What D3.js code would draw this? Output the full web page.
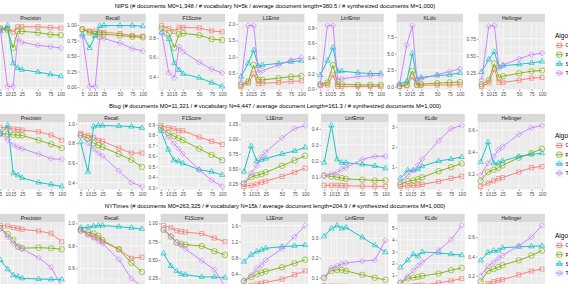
<!DOCTYPE html>
<html>
<head>
<meta charset="utf-8">
<script src="https://cdn.jsdelivr.net/npm/d3@7"></script>
<style>
  body { margin: 0; background: #fff; overflow: hidden; }
  svg { display: block; }
  text { font-family: "Liberation Sans", Arial, Helvetica, sans-serif; }
</style>
</head>
<body>
<div id="chart"></div>
<script>
// x values (sqrt scale) and the labelled breaks
const XS = [5, 10, 15, 20, 25, 50, 75, 100];
const X_BREAKS = [5, 10, 15, 25, 50, 75, 100];
const METRICS = ['Precision', 'Recall', 'F1Score', 'L1Error', 'LinfError', 'KLdiv', 'Hellinger'];
const ALGOS = ['CGS', 'PLDA', 'SVI', 'TVAE'];
const COLORS = ['#F8766D', '#7CAE00', '#00BFC4', '#C77CFF'];
const LEGEND_TITLE = 'Algorithm';
const TITLES = [
    'NIPS (# documents M0=1,348  /  # vocabulary N=5k  /  average document length=380.5  /  # synthesized documents M=1,000)',
    'Blog (# documents M0=11,321  /  # vocabulary N=4,447  /  average document Length=161.3  /  # synthesized documents M=1,000)',
    'NYTimes (# documents M0=263,325  /  # vocabulary N=15k  /  average document length=204.9  /  # synthesized documents M=1,000)'
];

// ---- NIPS ---- (rows: C, P, S, T)
const nipsPrecision = [[0.93, 0.92, 0.87, 0.95, 0.95, 0.95, 0.94, 0.93], [0.92, 0.90, 0.62, 0.88, 0.88, 0.86, 0.83, 0.82], [0.88, 0.97, 0.38, 0.31, 0.28, 0.245, 0.21, 0.18], [0.90, 0.02, 0.02, 0.77, 0.71, 0.66, 0.64, 0.62]];
const nipsRecall = [[0.93, 0.90, 0.90, 0.88, 0.88, 0.86, 0.83, 0.82], [0.93, 0.88, 0.85, 0.85, 0.85, 0.83, 0.81, 0.80], [0.85, 0.63, 0.82, 0.98, 0.99, 0.99, 0.99, 0.98], [0.82, 0.01, 0.01, 0.79, 0.78, 0.71, 0.62, 0.58]];
const nipsF1 = [[0.93, 0.90, 0.87, 0.91, 0.91, 0.905, 0.875, 0.865], [0.90, 0.85, 0.70, 0.84, 0.85, 0.83, 0.79, 0.78], [0.86, 0.79, 0.54, 0.47, 0.43, 0.39, 0.34, 0.30], [0.85, 0.44, 0.39, 0.71, 0.66, 0.55, 0.48, 0.44]];
const nipsL1 = [[0.10, 0.20, 0.48, 0.18, 0.20, 0.22, 0.25, 0.27], [0.15, 0.25, 0.75, 0.30, 0.30, 0.35, 0.40, 0.42], [0.40, 0.80, 1.20, 0.72, 0.75, 0.80, 0.85, 0.88], [0.22, 1.95, 1.95, 0.52, 0.58, 0.75, 0.90, 0.97]];
const nipsLinf = [[0.04, 0.05, 0.18, 0.03, 0.03, 0.03, 0.03, 0.03], [0.06, 0.08, 0.31, 0.06, 0.06, 0.05, 0.05, 0.05], [0.18, 0.37, 0.54, 0.23, 0.23, 0.21, 0.20, 0.20], [0.05, 0.83, 0.83, 0.12, 0.13, 0.16, 0.17, 0.18]];
const nipsKL = [[0.05, 0.15, 1.5, 0.2, 0.22, 0.25, 0.28, 0.3], [0.15, 0.3, 2.4, 0.35, 0.4, 0.55, 0.65, 0.7], [0.4, 0.8, 5.0, 1.2, 1.4, 1.7, 1.8, 2.1], [0.4, 6.3, 9.2, 1.0, 1.2, 1.8, 2.3, 2.7]];
const nipsHellinger = [[0.06, 0.11, 0.31, 0.12, 0.12, 0.15, 0.18, 0.19], [0.09, 0.15, 0.39, 0.19, 0.21, 0.25, 0.28, 0.29], [0.27, 0.45, 0.56, 0.34, 0.36, 0.38, 0.40, 0.42], [0.15, 0.93, 0.94, 0.33, 0.37, 0.46, 0.52, 0.54]];
const nipsTicks = [
    ['0.00', '0.25', '0.50', '0.75', '1.00'], ['0.00', '0.25', '0.50', '0.75', '1.00'], ['0.4', '0.6', '0.8'],
    ['0.0', '0.5', '1.0', '1.5', '2.0'], ['0.0', '0.2', '0.4', '0.6', '0.8'], ['0.0', '2.5', '5.0', '7.5'], ['0.25', '0.50', '0.75']
];

// ---- Blog ----
const blogPrecision = [[0.963, 0.952, 0.937, 0.93, 0.922, 0.896, 0.847, 0.77], [0.87, 0.86, 0.85, 0.845, 0.84, 0.77, 0.71, 0.65], [0.86, 0.99, 0.27, 0.24, 0.20, 0.13, 0.10, 0.07], [0.87, 0.77, 0.70, 0.66, 0.64, 0.56, 0.49, 0.48]];
const blogRecall = [[0.90, 0.88, 0.86, 0.83, 0.82, 0.75, 0.70, 0.70], [0.88, 0.85, 0.80, 0.78, 0.76, 0.69, 0.63, 0.56], [0.81, 0.51, 0.97, 0.98, 0.98, 0.975, 0.97, 0.955], [0.88, 0.80, 0.74, 0.70, 0.67, 0.52, 0.40, 0.36]];
const blogF1 = [[0.89, 0.87, 0.86, 0.84, 0.84, 0.78, 0.74, 0.71], [0.87, 0.82, 0.79, 0.77, 0.75, 0.67, 0.61, 0.56], [0.84, 0.66, 0.56, 0.55, 0.53, 0.47, 0.45, 0.42], [0.86, 0.78, 0.72, 0.67, 0.62, 0.47, 0.37, 0.31]];
const blogL1 = [[0.20, 0.22, 0.24, 0.27, 0.29, 0.37, 0.44, 0.51], [0.25, 0.36, 0.39, 0.41, 0.44, 0.55, 0.64, 0.72], [0.45, 0.88, 0.63, 0.65, 0.67, 0.75, 0.80, 0.86], [0.25, 0.42, 0.55, 0.70, 0.78, 1.02, 1.18, 1.23]];
const blogLinf = [[0.05, 0.05, 0.05, 0.048, 0.047, 0.045, 0.044, 0.043], [0.11, 0.105, 0.10, 0.095, 0.09, 0.085, 0.08, 0.08], [0.19, 0.42, 0.21, 0.19, 0.19, 0.18, 0.17, 0.155], [0.11, 0.12, 0.13, 0.15, 0.16, 0.21, 0.23, 0.23]];
const blogKL = [[0.05, 0.08, 0.10, 0.12, 0.15, 0.30, 0.45, 0.55], [0.15, 0.30, 0.35, 0.40, 0.50, 0.80, 1.00, 1.18], [0.45, 0.85, 0.85, 0.90, 1.05, 1.30, 1.40, 1.50], [0.25, 0.60, 0.85, 1.10, 1.40, 2.30, 2.90, 3.05]];
const blogHellinger = [[0.09, 0.12, 0.14, 0.16, 0.17, 0.22, 0.26, 0.27], [0.14, 0.22, 0.24, 0.26, 0.28, 0.35, 0.39, 0.43], [0.31, 0.49, 0.30, 0.30, 0.32, 0.36, 0.38, 0.39], [0.19, 0.30, 0.36, 0.42, 0.45, 0.56, 0.62, 0.64]];
const blogTicks = [
    ['0.25', '0.50', '0.75', '1.00'], ['0.4', '0.6', '0.8', '1.0'], ['0.3', '0.4', '0.5', '0.6', '0.7', '0.8', '0.9'],
    ['0.25', '0.50', '0.75', '1.00', '1.25'], ['0.1', '0.2', '0.3', '0.4'], ['1', '2', '3'], ['0.2', '0.4', '0.6']
];

// ---- NYTimes ----
const nytPrecision = [[0.96, 0.953, 0.93, 0.92, 0.906, 0.882, 0.85, 0.73], [0.92, 0.84, 0.755, 0.66, 0.64, 0.647, 0.64, 0.625], [0.474, 0.342, 0.26, 0.238, 0.215, 0.205, 0.20, 0.20], [0.92, 0.80, 0.71, 0.66, 0.63, 0.506, 0.37, 0.10]];
const nytRecall = [[0.945, 0.90, 0.88, 0.87, 0.84, 0.77, 0.69, 0.70], [0.935, 0.92, 0.91, 0.89, 0.85, 0.77, 0.65, 0.57], [0.96, 0.965, 0.975, 0.98, 0.98, 0.97, 0.96, 0.95], [0.935, 0.90, 0.87, 0.84, 0.82, 0.68, 0.51, 0.44]];
const nytF1 = [[0.97, 0.94, 0.90, 0.89, 0.88, 0.86, 0.80, 0.75], [0.91, 0.82, 0.74, 0.72, 0.71, 0.69, 0.62, 0.57], [0.59, 0.42, 0.35, 0.31, 0.30, 0.27, 0.27, 0.26], [0.92, 0.83, 0.74, 0.70, 0.65, 0.49, 0.37, 0.14]];
const nytL1 = [[0.10, 0.13, 0.16, 0.18, 0.20, 0.28, 0.39, 0.48], [0.23, 0.33, 0.40, 0.44, 0.47, 0.57, 0.67, 0.76], [0.71, 0.88, 0.96, 1.00, 1.04, 1.08, 1.10, 1.12], [0.25, 0.38, 0.55, 0.63, 0.75, 1.03, 1.33, 1.60]];
const nytLinf = [[0.06, 0.058, 0.057, 0.057, 0.057, 0.056, 0.056, 0.056], [0.10, 0.135, 0.14, 0.14, 0.135, 0.115, 0.10, 0.09], [0.31, 0.35, 0.365, 0.35, 0.355, 0.305, 0.265, 0.23], [0.10, 0.15, 0.16, 0.17, 0.175, 0.185, 0.19, 0.29]];
const nytKL = [[0.05, 0.08, 0.11, 0.14, 0.17, 0.36, 0.52, 0.72], [0.35, 0.72, 0.80, 0.86, 0.94, 1.14, 1.42, 1.62], [1.65, 2.27, 2.78, 2.6, 2.97, 2.9, 2.78, 2.7], [0.4, 0.9, 1.4, 1.8, 2.1, 3.1, 4.0, 5.2]];
const nytHellinger = [[0.09, 0.12, 0.14, 0.15, 0.16, 0.21, 0.25, 0.27], [0.14, 0.25, 0.27, 0.29, 0.31, 0.36, 0.41, 0.46], [0.36, 0.44, 0.46, 0.46, 0.49, 0.50, 0.505, 0.51], [0.20, 0.30, 0.34, 0.38, 0.41, 0.51, 0.60, 0.72]];
const nytTicks = [
    ['0.25', '0.50', '0.75'], ['0.4', '0.6', '0.8', '1.0'], ['0.25', '0.50', '0.75', '1.00'],
    ['0.4', '0.8', '1.2', '1.6'], ['0.1', '0.2', '0.3'], ['0', '1', '2', '3', '4', '5'], ['0.2', '0.4', '0.6']
];

const ROWS = [
    { series: [nipsPrecision, nipsRecall, nipsF1, nipsL1, nipsLinf, nipsKL, nipsHellinger], ticks: nipsTicks },
    { series: [blogPrecision, blogRecall, blogF1, blogL1, blogLinf, blogKL, blogHellinger], ticks: blogTicks },
    { series: [nytPrecision, nytRecall, nytF1, nytL1, nytLinf, nytKL, nytHellinger], ticks: nytTicks }
];

// layout (the figure is cropped on the left and bottom)
const ROW_H = 100;
const PLOT_LEFT = -15;
const PANEL_RIGHT = 545;
const STRIP_TOP = 13.8;
const PANEL_TOP = 22.5;
const PANEL_H = 67;
const SPACING = 3.2;
const TICK_LEN = 1.6;
const TICK_PAD = 1.1;
const TICK_FONT = 4.8;
const TITLE_FONT = 5.9;
const SHAPES = [d3.symbolSquare2, d3.symbolCircle, d3.symbolTriangle2, d3.symbolDiamond2];
const SHAPE_SIZE = [22, 24, 20, 20];

const svg = d3.select('#chart').append('svg').attr('width', 568).attr('height', 284);

function textWidth(str, size) {
    const t = svg.append('text').attr('font-size', size).text(str);
    const w = t.node().getComputedTextLength();
    t.remove();
    return w;
}

// ggplot style minor breaks: midpoints between majors (extended by one step at ends)
function minorBreaks(major, lo, hi) {
    const out = [];
    const step = major[1] - major[0];
    const ext = [major[0] - step].concat(major, [major[major.length - 1] + step]);
    for (let i = 0; i < ext.length - 1; ++i) {
        const m = (ext[i] + ext[i + 1]) / 2;
        if (m > lo && m < hi) out.push(m);
    }
    return out;
}

function drawPanel(g, left, top, w, h, name, vals, tickLabels) {
    // x: sqrt scale with 5% expansion in transformed space
    const sLo = Math.sqrt(XS[0]), sHi = Math.sqrt(XS[XS.length - 1]);
    const ex = (sHi - sLo) * 0.05;
    const x = d3.scaleSqrt().domain([Math.pow(sLo - ex, 2), Math.pow(sHi + ex, 2)]).range([left, left + w]);

    const all = vals.flat();
    const [mn, mx] = d3.extent(all);
    const ey = (mx - mn) * 0.05;
    const y = d3.scaleLinear().domain([mn - ey, mx + ey]).range([top + h, top]);
    const yDom = y.domain();

    const tickVals = tickLabels.map(Number);
    const keep = tickVals.map(v => v >= yDom[0] && v <= yDom[1]);
    const yMajor = tickVals.filter((v, i) => keep[i]);
    const yLabels = tickLabels.filter((v, i) => keep[i]);

    // strip
    g.append('rect')
        .attr('x', left).attr('y', top - (PANEL_TOP - STRIP_TOP))
        .attr('width', w).attr('height', PANEL_TOP - STRIP_TOP)
        .attr('fill', '#D9D9D9');
    g.append('text')
        .attr('x', left + w / 2).attr('y', top - (PANEL_TOP - STRIP_TOP) / 2 + 1.8)
        .attr('text-anchor', 'middle').attr('font-size', 5).attr('fill', '#1A1A1A')
        .text(name);

    // panel background
    g.append('rect').attr('x', left).attr('y', top).attr('width', w).attr('height', h).attr('fill', '#EBEBEB');

    // grid
    const xMinor = [];
    for (let i = 0; i < X_BREAKS.length - 1; ++i) {
        xMinor.push(Math.pow((Math.sqrt(X_BREAKS[i]) + Math.sqrt(X_BREAKS[i + 1])) / 2, 2));
    }
    const grid = g.append('g').attr('stroke', '#FFFFFF');
    grid.selectAll('.ymin').data(minorBreaks(tickVals, yDom[0], yDom[1])).enter().append('line')
        .attr('x1', left).attr('x2', left + w).attr('y1', d => y(d)).attr('y2', d => y(d)).attr('stroke-width', 0.3);
    grid.selectAll('.xmin').data(xMinor).enter().append('line')
        .attr('y1', top).attr('y2', top + h).attr('x1', d => x(d)).attr('x2', d => x(d)).attr('stroke-width', 0.3);
    grid.selectAll('.ymaj').data(yMajor).enter().append('line')
        .attr('x1', left).attr('x2', left + w).attr('y1', d => y(d)).attr('y2', d => y(d)).attr('stroke-width', 0.6);
    grid.selectAll('.xmaj').data(X_BREAKS).enter().append('line')
        .attr('y1', top).attr('y2', top + h).attr('x1', d => x(d)).attr('x2', d => x(d)).attr('stroke-width', 0.6);

    // axes
    const ya = g.append('g').attr('transform', 'translate(' + left + ',0)')
        .call(d3.axisLeft(y).tickValues(yMajor).tickFormat((d, i) => yLabels[i]).tickSize(TICK_LEN).tickPadding(TICK_PAD));
    const xa = g.append('g').attr('transform', 'translate(0,' + (top + h) + ')')
        .call(d3.axisBottom(x).tickValues(X_BREAKS).tickFormat(d3.format('d')).tickSize(TICK_LEN).tickPadding(TICK_PAD));
    [ya, xa].forEach(a => {
        a.select('.domain').remove();
        a.selectAll('line').attr('stroke', '#333333').attr('stroke-width', 0.45);
        a.selectAll('text').attr('font-size', TICK_FONT).attr('fill', '#4D4D4D').attr('font-family', null);
    });

    // series
    const line = d3.line().x((d, i) => x(XS[i])).y(d => y(d));
    vals.forEach((s, k) => {
        g.append('path').attr('d', line(s)).attr('fill', 'none')
            .attr('stroke', COLORS[k]).attr('stroke-width', 0.9);
        g.selectAll('.pt' + k).data(s).enter().append('path')
            .attr('transform', (d, i) => 'translate(' + x(XS[i]) + ',' + y(d) + ')')
            .attr('d', d3.symbol().type(SHAPES[k]).size(SHAPE_SIZE[k]))
            .attr('fill', 'none').attr('stroke', COLORS[k]).attr('stroke-width', 0.65);
    });
}

ROWS.forEach((row, r) => {
    const rowTop = r * ROW_H;
    const g = svg.append('g');
    const labelW = row.ticks.map(tk => d3.max(tk, s => textWidth(s, TICK_FONT)));
    const fixed = d3.sum(labelW) + 7 * (TICK_LEN + TICK_PAD + 0.3) + 6 * SPACING;
    const panelW = (PANEL_RIGHT - PLOT_LEFT - fixed) / 7;
    let x0 = PLOT_LEFT;
    row.series.forEach((vals, i) => {
        const left = x0 + labelW[i] + TICK_LEN + TICK_PAD + 0.3;
        drawPanel(g, left, rowTop + PANEL_TOP, panelW, PANEL_H, METRICS[i], vals, row.ticks[i]);
        x0 = left + panelW + SPACING;
    });

    // row title
    g.append('text')
        .attr('x', 275).attr('y', rowTop + 7.6)
        .attr('text-anchor', 'middle').attr('font-size', TITLE_FONT).attr('fill', '#000')
        .text(TITLES[r]);

    // legend
    const lg = g.append('g');
    lg.append('text').attr('x', 555).attr('y', rowTop + 37.5)
        .attr('font-size', 6.5).attr('fill', '#000').text(LEGEND_TITLE);
    ALGOS.forEach((name, k) => {
        const cy = rowTop + 45.5 + k * 9.2;
        lg.append('rect').attr('x', 555.5).attr('y', cy - 3.9).attr('width', 7.8).attr('height', 7.8).attr('fill', '#F2F2F2');
        lg.append('line').attr('x1', 555.8).attr('x2', 563).attr('y1', cy).attr('y2', cy)
            .attr('stroke', COLORS[k]).attr('stroke-width', 0.9);
        lg.append('path').attr('transform', 'translate(' + 559.4 + ',' + cy + ')')
            .attr('d', d3.symbol().type(SHAPES[k]).size(SHAPE_SIZE[k]))
            .attr('fill', 'none').attr('stroke', COLORS[k]).attr('stroke-width', 0.65);
        lg.append('text').attr('x', 565.5).attr('y', cy + 1.8)
            .attr('font-size', 5).attr('fill', '#000').text(name);
    });
});
</script>
</body>
</html>
